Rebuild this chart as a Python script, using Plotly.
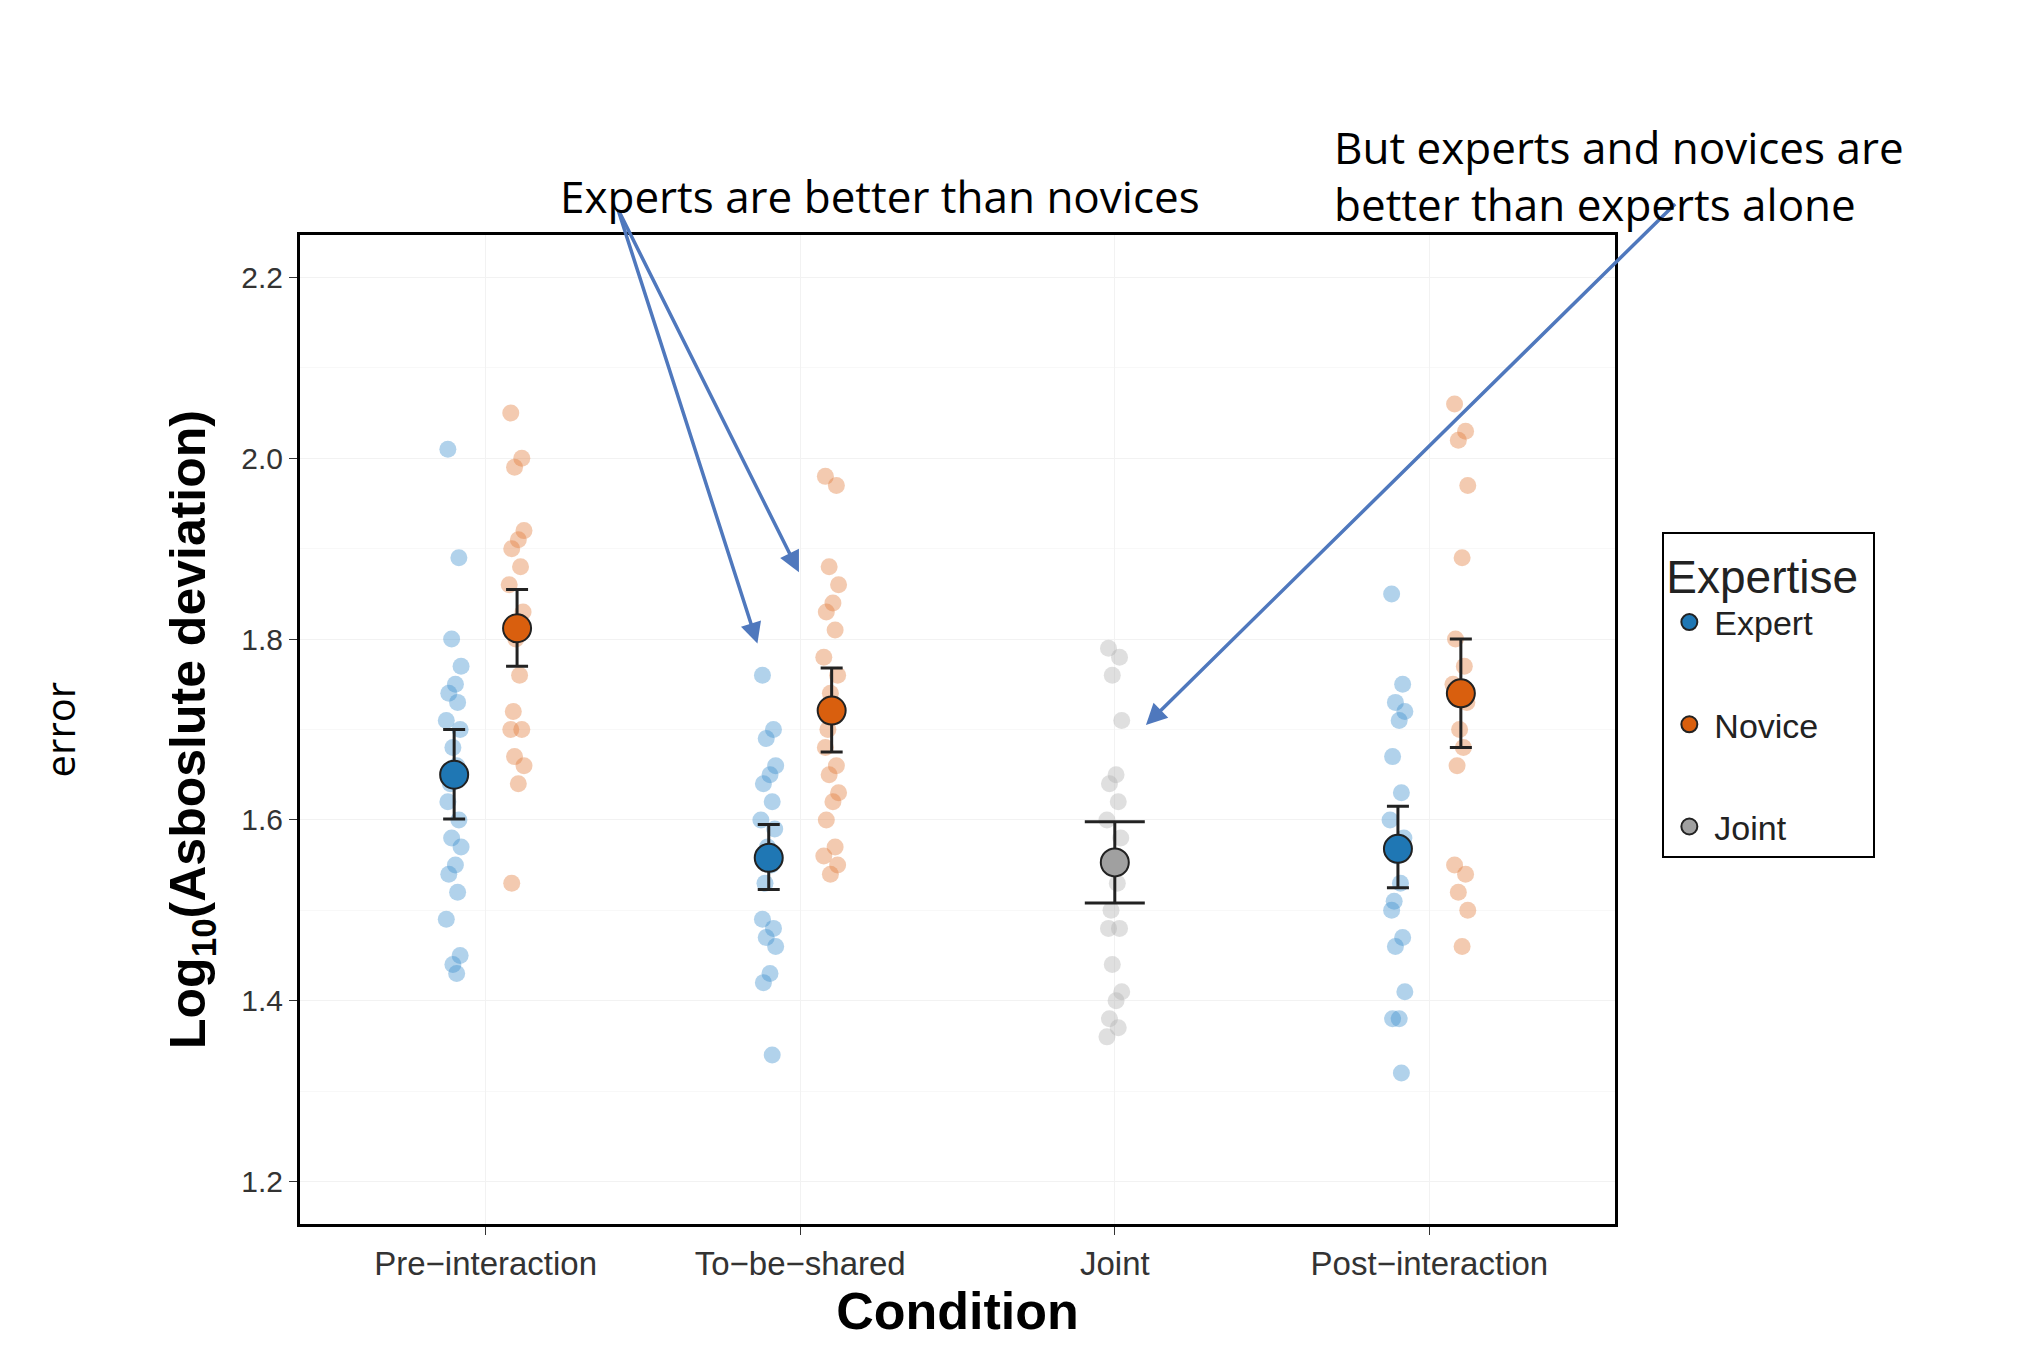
import plotly.graph_objects as go

conditions = ["Pre\u2212interaction", "To\u2212be\u2212shared", "Joint", "Post\u2212interaction"]

# individual observations (log10 absolute deviation)
expert_pre = [2.01, 1.89, 1.80, 1.77, 1.75, 1.74, 1.73, 1.71, 1.70, 1.68, 1.66, 1.64, 1.62, 1.60, 1.58, 1.57, 1.55, 1.54, 1.52, 1.49, 1.45, 1.44, 1.43]
novice_pre = [2.05, 2.00, 1.99, 1.92, 1.91, 1.90, 1.88, 1.86, 1.83, 1.80, 1.76, 1.72, 1.70, 1.70, 1.67, 1.66, 1.64, 1.53]
expert_tbs = [1.76, 1.70, 1.69, 1.66, 1.65, 1.64, 1.62, 1.60, 1.59, 1.57, 1.55, 1.53, 1.49, 1.48, 1.47, 1.46, 1.43, 1.42, 1.34]
novice_tbs = [1.98, 1.97, 1.88, 1.86, 1.84, 1.83, 1.81, 1.78, 1.76, 1.74, 1.72, 1.70, 1.68, 1.66, 1.65, 1.63, 1.62, 1.60, 1.57, 1.56, 1.55, 1.54]
joint_vals = [1.79, 1.78, 1.76, 1.71, 1.65, 1.64, 1.62, 1.60, 1.58, 1.55, 1.53, 1.50, 1.48, 1.48, 1.44, 1.41, 1.40, 1.38, 1.37, 1.36]
expert_post = [1.85, 1.75, 1.73, 1.72, 1.71, 1.67, 1.63, 1.60, 1.58, 1.56, 1.53, 1.51, 1.50, 1.47, 1.46, 1.41, 1.38, 1.38, 1.32]
novice_post = [2.06, 2.03, 2.02, 1.97, 1.89, 1.80, 1.77, 1.75, 1.73, 1.70, 1.68, 1.66, 1.55, 1.54, 1.52, 1.50, 1.46]

# group means and error bar limits
expert_mean = [1.65, 1.558, None, 1.568]
expert_lo = [1.601, 1.523, None, 1.525]
expert_hi = [1.700, 1.595, None, 1.615]
novice_mean = [1.812, 1.721, None, 1.740]
novice_lo = [1.770, 1.675, None, 1.680]
novice_hi = [1.855, 1.768, None, 1.800]
joint_mean = 1.553
joint_lo = 1.508
joint_hi = 1.598

jitter = [-0.02, 0.015, -0.008, 0.022, 0.004, -0.017, 0.011, -0.025, 0.019, -0.004, 0.008, -0.012]

blue = "#1f77b4"
orange = "#d95f0e"
grey = "#a0a0a0"

fig = go.Figure()


def add_points(vals, xc, color):
    xs = [xc + jitter[i % len(jitter)] for i in range(len(vals))]
    fig.add_trace(go.Scatter(x=xs, y=vals, mode="markers", showlegend=False,
                             marker=dict(color=color, size=17, opacity=0.4)))


add_points(expert_pre, -0.1, "#3b8fcc")
add_points(novice_pre, 0.1, "#e07b39")
add_points(expert_tbs, 0.9, "#3b8fcc")
add_points(novice_tbs, 1.1, "#e07b39")
add_points(joint_vals, 2.0, "#b0b0b0")
add_points(expert_post, 2.9, "#3b8fcc")
add_points(novice_post, 3.1, "#e07b39")


def add_mean(xs, m, lo, hi, color, cap):
    fig.add_trace(go.Scatter(
        x=xs, y=m, mode="markers", showlegend=False,
        error_y=dict(type="data", symmetric=False,
                     array=[h - v for h, v in zip(hi, m)],
                     arrayminus=[v - l for l, v in zip(lo, m)],
                     color="#222222", thickness=3, width=cap),
        marker=dict(color=color, size=28, line=dict(color="#222222", width=2))))


idx = [0, 1, 3]
add_mean([i - 0.1 for i in idx], [expert_mean[i] for i in idx], [expert_lo[i] for i in idx],
         [expert_hi[i] for i in idx], blue, 11)
add_mean([i + 0.1 for i in idx], [novice_mean[i] for i in idx], [novice_lo[i] for i in idx],
         [novice_hi[i] for i in idx], orange, 11)
add_mean([2.0], [joint_mean], [joint_lo], [joint_hi], grey, 30)

# legend entries
for i, (nm, c) in enumerate([("Expert", blue), ("Novice", orange), ("Joint", grey)]):
    fig.add_trace(go.Scatter(x=[None], y=[None], mode="markers", name=nm, legendgroup=nm,
                             marker=dict(color=c, size=24, line=dict(color="#222222", width=2))))

arrow = dict(xref="x", yref="y", axref="x", ayref="y", text="", showarrow=True,
             arrowhead=2, arrowsize=1.2, arrowwidth=3.5, arrowcolor="#4f78bd")
fig.add_annotation(x=0.864, y=1.795, ax=0.42, ay=2.276, **arrow)
fig.add_annotation(x=0.996, y=1.874, ax=0.42, ay=2.276, **arrow)
fig.add_annotation(x=2.099, y=1.705, ax=3.786, ay=2.283, **arrow)

fig.add_annotation(x=0.196, y=1.072, xref="paper", yref="paper", text="Experts are better than novices",
                   showarrow=False, font=dict(size=44, color="black", family="Open Sans"))
fig.add_annotation(x=0.785, y=1.121, xref="paper", yref="paper", xanchor="left", align="left",
                   text="But experts and novices are<br>better than experts alone",
                   showarrow=False, font=dict(size=44, color="black", family="Open Sans"))
fig.add_annotation(x=-0.205, y=0.5, xref="paper", yref="paper", text="error", textangle=-90,
                   showarrow=False, font=dict(size=40, color="black", family="Open Sans"))

fig.update_layout(
    width=2022, height=1362,
    margin=dict(l=292, r=415, t=227, b=146),
    plot_bgcolor="white", paper_bgcolor="white",
    font=dict(family="Liberation Sans", color="#333333"),
    legend=dict(title=dict(text="Expertise ", font=dict(size=46, color="#222222")),
                x=1.036, y=0.70, xanchor="left", yanchor="top",
                bordercolor="black", borderwidth=2, tracegroupgap=55,
                font=dict(size=34, color="#222222"), itemwidth=40),
)
fig.update_xaxes(range=[-0.59, 3.59], tickvals=[0, 1, 2, 3], ticktext=conditions,
                 tickfont=dict(size=33, color="#333333"), ticks="outside", ticklen=8,
                 tickcolor="#333333", showgrid=True, gridcolor="#f2f2f2", zeroline=False,
                 showline=True, linecolor="black", linewidth=3, mirror=True,
                 title=dict(text="<b>Condition</b>", font=dict(size=52, color="black"), standoff=12))
fig.update_yaxes(range=[1.153, 2.247], tickvals=[1.2, 1.4, 1.6, 1.8, 2.0, 2.2],
                 ticktext=["1.2", "1.4", "1.6", "1.8", "2.0", "2.2"],
                 tickfont=dict(size=30, color="#333333"), ticks="outside", ticklen=8,
                 tickcolor="#333333", showgrid=True, gridcolor="#f2f2f2", zeroline=False,
                 minor=dict(dtick=0.1, showgrid=True, gridcolor="#f8f8f8"),
                 showline=True, linecolor="black", linewidth=3, mirror=True,
                 title=dict(text="<b>Log<sub>10</sub>(Asboslute deviation)</b>",
                            font=dict(size=50, color="black"), standoff=20))

fig.write_html("out.html")
